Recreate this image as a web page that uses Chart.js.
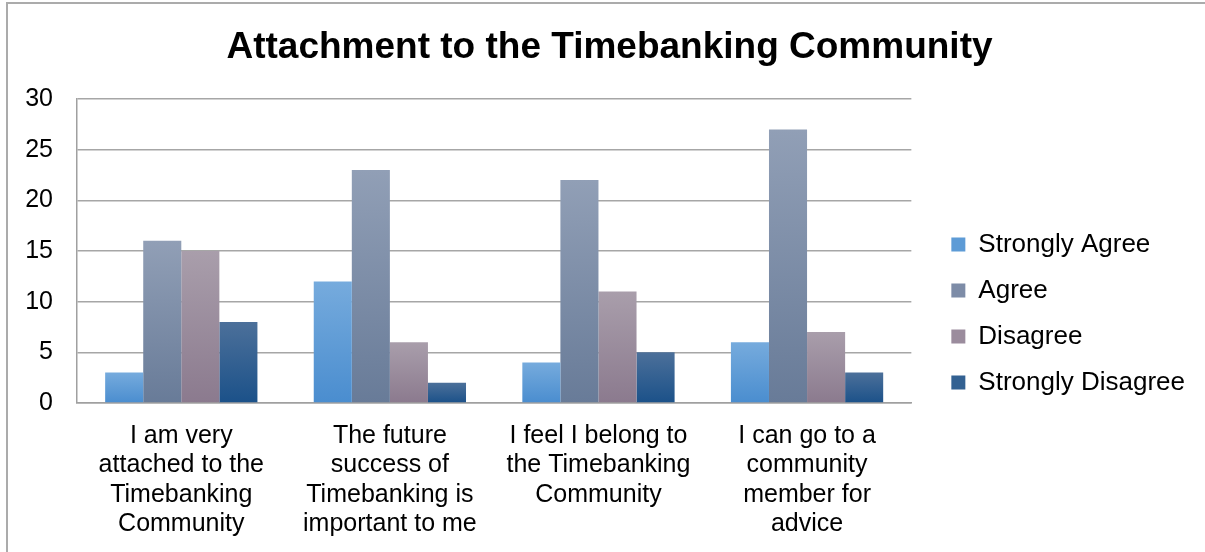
<!DOCTYPE html>
<html>
<head>
<meta charset="utf-8">
<script src="https://cdn.jsdelivr.net/npm/chart.js@4"></script>
<style>
  html, body { margin: 0; padding: 0; background: #fff; }
  #marco { position: absolute; left: 6px; top: 2px; width: 1210px; height: 560px;
           border-left: 2px solid #ababab; border-top: 2px solid #ababab; }
  #wrap { position: absolute; left: 0; top: 0; width: 1205px; height: 552px; }
</style>
</head>
<body>
<div id="marco"></div>
<div id="wrap"><canvas id="graficoApego"></canvas></div>
<script>
// Categorías (preguntas de la encuesta) y respuestas por nivel de acuerdo
const preguntas = [
  ['I am very', 'attached to the', 'Timebanking', 'Community'],
  ['The future', 'success of', 'Timebanking is', 'important to me'],
  ['I feel I belong to', 'the Timebanking', 'Community'],
  ['I can go to a', 'community', 'member for', 'advice']
];
const muyDeAcuerdo = [3, 12, 4, 6];
const deAcuerdo = [16, 23, 22, 27];
const enDesacuerdo = [15, 6, 11, 7];
const muyEnDesacuerdo = [8, 2, 5, 3];
const ticksY = [0, 5, 10, 15, 20, 25, 30];

const fuente = '"Liberation Sans", Arial, sans-serif';

// Degradado vertical dentro de cada barra (claro arriba, oscuro abajo)
function degradado(arriba, abajo) {
  return function (c) {
    const chart = c.chart;
    if (!chart.chartArea || c.raw === undefined) return abajo;
    const y = chart.scales.y;
    const y0 = y.getPixelForValue(c.raw);
    const y1 = y.getPixelForValue(0);
    if (!isFinite(y0) || y0 === y1) return abajo;
    const g = chart.ctx.createLinearGradient(0, y0, 0, y1);
    g.addColorStop(0, arriba);
    g.addColorStop(1, abajo);
    return g;
  };
}

const series = [
  { label: 'Strongly Agree', data: muyDeAcuerdo, top: '#76abdd', bottom: '#4a8dcf', solid: '#5d9bd6' },
  { label: 'Agree', data: deAcuerdo, top: '#919fb6', bottom: '#687b98', solid: '#7d8ca7' },
  { label: 'Disagree', data: enDesacuerdo, top: '#a99eab', bottom: '#8b7a8e', solid: '#9b8c9d' },
  { label: 'Strongly Disagree', data: muyEnDesacuerdo, top: '#4c709a', bottom: '#1b5189', solid: '#336192' }
];

const ctx = document.getElementById('graficoApego').getContext('2d');
new Chart(ctx, {
  type: 'bar',
  data: {
    labels: preguntas,
    datasets: series.map(s => ({
      label: s.label,
      data: s.data,
      backgroundColor: degradado(s.top, s.bottom),
      borderWidth: 0,
      categoryPercentage: 0.73,
      barPercentage: 1
    }))
  },
  options: {
    responsive: true,
    maintainAspectRatio: false,
    animation: false,
    layout: { padding: { left: 24, right: 10, top: 0, bottom: -5 } },
    plugins: {
      title: {
        display: true,
        text: 'Attachment to the Timebanking Community',
        color: '#000',
        font: { family: fuente, size: 37, weight: 'bold', lineHeight: 1.2 },
        padding: { top: 26, bottom: 28.6 }
      },
      legend: {
        position: 'right',
        maxWidth: 320,
        // título vacío solo para bajar el bloque de la leyenda
        title: { display: true, text: ' ', font: { size: 10, lineHeight: 1 }, padding: { top: 30, bottom: 30 } },
        labels: {
          color: '#000',
          boxWidth: 14,
          boxHeight: 14,
          padding: 20,
          font: { family: fuente, size: 26 },
          generateLabels: chart => series.map((s, i) => ({
            text: s.label,
            fillStyle: s.solid,
            strokeStyle: s.solid,
            fontColor: '#000',
            lineWidth: 0,
            hidden: !chart.isDatasetVisible(i),
            datasetIndex: i
          }))
        }
      },
      tooltip: { enabled: false }
    },
    scales: {
      x: {
        grid: { display: false, drawTicks: false },
        border: { display: true, color: '#a0a0a0', width: 1.5 },
        ticks: {
          color: '#000',
          padding: 18,
          maxRotation: 0,
          autoSkip: false,
          font: { family: fuente, size: 25, lineHeight: 1.18 }
        }
      },
      y: {
        min: 0,
        max: 30,
        afterBuildTicks: axis => { axis.ticks = ticksY.map(v => ({ value: v })); },
        afterFit: axis => { axis.width = 53; },
        grid: { color: '#a6a6a6', lineWidth: 1.5, drawTicks: false },
        border: { display: true, color: '#a0a0a0', width: 1.5 },
        ticks: {
          color: '#000',
          padding: 24,
          font: { family: fuente, size: 25 }
        }
      },
      // eje vacío: separa el área de barras de la leyenda
      margen: {
        position: 'right',
        min: 0,
        max: 1,
        grid: { display: false, drawTicks: false },
        border: { display: false },
        ticks: { display: false },
        afterFit: axis => { axis.width = 20; }
      }
    }
  }
});
</script>
</body>
</html>
